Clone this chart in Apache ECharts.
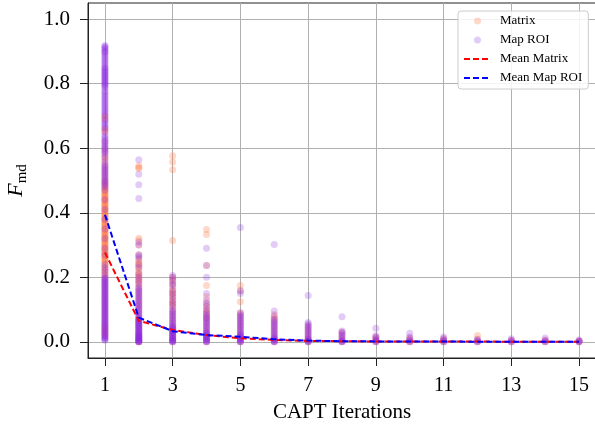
<!DOCTYPE html>
<html>
<head>
<meta charset="utf-8">
<script src="https://cdn.jsdelivr.net/npm/echarts@6/dist/echarts.min.js"></script>
<style>html,body{margin:0;padding:0;background:#fff}#c{width:595px;height:430px}</style>
</head>
<body>
<div id="c"></div>
<script>
// Iterations (x positions)
const iterations = [1,2,3,4,5,6,7,8,9,10,11,12,13,14,15];
const xTicks = [1,3,5,7,9,11,13,15];
const yTicks = [0,0.2,0.4,0.6,0.8,1.0];

// F_md values per iteration, "Matrix"
const matrixVals = [
  [0.70,0.695,0.69,0.66,0.655,0.65,0.62,0.60,0.59,0.575,0.57,0.56,0.55,0.54,0.53,0.52,0.51,0.50,0.49,0.48,0.475,0.47,0.465,0.46,0.455,0.45,0.445,0.44,0.435,0.43,0.425,0.42,0.415,0.41,0.405,0.40,0.395,0.39,0.385,0.38,0.375,0.37,0.365,0.36,0.355,0.35,0.345,0.34,0.335,0.33,0.325,0.32,0.315,0.31,0.305,0.30,0.295,0.29,0.285,0.28,0.275,0.27,0.265,0.26,0.255,0.25,0.24,0.23,0.22,0.21,0.20,0.19,0.18,0.17,0.16,0.15,0.14,0.13,0.12,0.11,0.10,0.09,0.08,0.07,0.06,0.05,0.045,0.04,0.035,0.03,0.025,0.02,
   0.498,0.488,0.478,0.468,0.458,0.448,0.438,0.428,0.418,0.408,0.398,0.388,0.378,0.368,0.358,0.348,0.338,0.328,0.318,0.308,0.298,0.288,0.278,0.268,0.258,0.248,0.238,0.228,0.218,0.208],
  [0.546,0.54,0.537,0.321,0.315,0.30,0.27,0.255,0.25,0.245,0.24,0.235,0.23,0.22,0.215,0.21,0.205,0.20,0.195,0.19,0.185,0.18,0.17,0.16,0.15,0.14,0.13,0.12,0.11,0.10,0.09,0.08,0.07,0.06,0.05,0.04,0.03,0.02,0.01,0.0,0.0],
  [0.577,0.557,0.533,0.314,0.20,0.195,0.19,0.18,0.17,0.16,0.155,0.15,0.145,0.14,0.13,0.125,0.12,0.115,0.11,0.10,0.09,0.08,0.07,0.06,0.05,0.04,0.03,0.02,0.01,0.0],
  [0.348,0.333,0.237,0.175,0.14,0.12,0.11,0.10,0.095,0.09,0.08,0.075,0.07,0.06,0.05,0.04,0.03,0.02,0.01,0.0],
  [0.175,0.158,0.124,0.09,0.08,0.07,0.06,0.05,0.04,0.03,0.02,0.01,0.0],
  [0.085,0.075,0.07,0.06,0.05,0.04,0.03,0.02,0.01,0.0],
  [0.05,0.04,0.03,0.02,0.01,0.005,0.0],
  [0.03,0.02,0.01,0.0],
  [0.015,0.01,0.005,0.0],
  [0.012,0.006,0.0],
  [0.01,0.005,0.0],
  [0.02,0.008,0.0],
  [0.006,0.0],
  [0.006,0.0],
  [0.004,0.0]
];

// F_md values per iteration, "Map ROI"
const mapRoiVals = [
  [0.918,0.912,0.905,0.90,0.895,0.89,0.88,0.87,0.86,0.85,0.845,0.84,0.835,0.83,0.825,0.82,0.815,0.81,0.805,0.80,0.795,0.79,0.78,0.77,0.765,0.76,0.75,0.74,0.735,0.73,0.72,0.71,0.70,0.69,0.685,0.68,0.675,0.67,0.665,0.66,0.65,0.64,0.63,0.62,0.61,0.605,0.60,0.59,0.58,0.57,0.56,0.55,0.545,0.54,0.53,0.52,0.51,0.50,0.49,0.485,0.48,0.47,0.44,0.41,0.38,0.35,0.32,0.29,0.27,0.24,0.23,0.22,0.21,0.20,0.195,0.19,0.185,0.18,0.175,0.17,0.165,0.16,0.155,0.15,0.145,0.14,0.135,0.13,0.125,0.12,0.115,0.11,0.105,0.10,0.095,0.09,0.085,0.08,0.075,0.07,0.065,0.06,0.055,0.05,0.045,0.04,0.035,0.03,0.025,0.02,0.015,0.01,0.005,
   0.915,0.908,0.898,0.885,0.875,0.865,0.855,0.848,0.838,0.828,0.818,0.808,0.798,0.788,0.775,0.755,0.745,0.725,0.715,0.705,0.635,0.625,0.615,0.595,0.585,0.535,0.525,0.515,0.505,0.495,
   0.198,0.188,0.178,0.168,0.158,0.148,0.138,0.128,0.118,0.108,0.098,0.088,0.078,0.068,0.058,0.048,0.038,0.028,0.018,0.012,0.008],
  [0.564,0.519,0.487,0.444,0.309,0.30,0.27,0.265,0.26,0.24,0.23,0.21,0.20,0.19,0.18,0.17,0.165,0.16,0.155,0.15,0.145,0.14,0.135,0.13,0.125,0.12,0.115,0.11,0.105,0.10,0.095,0.09,0.085,0.08,0.075,0.07,0.065,0.06,0.055,0.05,0.045,0.04,0.035,0.03,0.025,0.02,0.015,0.01,0.005,0.0,0.0,0.0,0.002,0.004,0.006,0.008,0.012,0.014,0.016,0.018,0.022,0.024,0.028,0.032,0.038,0.042,0.048,0.052,0.058,0.062,0.068,0.072],
  [0.206,0.2,0.19,0.18,0.175,0.16,0.15,0.14,0.13,0.12,0.11,0.10,0.095,0.09,0.085,0.08,0.075,0.07,0.065,0.06,0.055,0.05,0.045,0.04,0.035,0.03,0.025,0.02,0.015,0.01,0.005,0.0,0.0,0.002,0.004,0.008,0.012,0.018,0.022,0.028,0.032,0.038,0.042,0.048],
  [0.29,0.237,0.2,0.15,0.13,0.12,0.11,0.10,0.09,0.085,0.08,0.075,0.07,0.065,0.06,0.055,0.05,0.045,0.04,0.035,0.03,0.025,0.02,0.015,0.01,0.005,0.0,0.0,0.002,0.008,0.012,0.018,0.022,0.028],
  [0.354,0.158,0.15,0.09,0.085,0.08,0.075,0.07,0.065,0.06,0.055,0.05,0.045,0.04,0.035,0.03,0.025,0.02,0.015,0.01,0.005,0.0,0.0,0.002,0.008,0.012,0.018,0.022],
  [0.302,0.096,0.08,0.07,0.065,0.06,0.055,0.05,0.045,0.04,0.035,0.03,0.025,0.02,0.015,0.01,0.005,0.0,0.0,0.002,0.008,0.012],
  [0.144,0.06,0.055,0.05,0.045,0.04,0.035,0.03,0.025,0.02,0.015,0.01,0.005,0.0,0.0,0.002,0.008],
  [0.078,0.034,0.03,0.025,0.02,0.015,0.01,0.005,0.0,0.0,0.002],
  [0.042,0.019,0.015,0.01,0.005,0.0,0.0],
  [0.027,0.015,0.01,0.005,0.0,0.0],
  [0.015,0.01,0.005,0.0,0.0],
  [0.008,0.004,0.0,0.0],
  [0.01,0.005,0.0,0.0],
  [0.012,0.005,0.0,0.0],
  [0.006,0.002,0.0,0.0]
];

// Mean curves
const meanMatrix = [0.277,0.065,0.037,0.021,0.011,0.006,0.003,0.002,0.001,0.001,0.001,0.001,0.0005,0.0005,0.0005];
const meanMapRoi = [0.394,0.075,0.033,0.021,0.016,0.008,0.004,0.002,0.0015,0.001,0.001,0.0005,0.0005,0.0005,0.0005];

function toPoints(perIter) {
  const pts = [];
  perIter.forEach((vals, i) => vals.forEach(v => pts.push([iterations[i], v])));
  return pts;
}
const FONT = 'Liberation Serif';
const chart = echarts.init(document.getElementById('c'), null, {renderer: 'canvas'});
chart.setOption({
  animation: false,
  backgroundColor: '#fff',
  grid: {left: 88, right: -1, top: 3, bottom: 72, show: true, borderColor: '#222', borderWidth: 1,
         backgroundColor: 'transparent', outerBoundsMode: 'none', containLabel: false},
  legend: {
    orient: 'vertical', left: 458, top: 11,
    padding: [3, 6, 4, 5], itemWidth: 27, itemHeight: 7, itemGap: 5,
    backgroundColor: 'rgba(255,255,255,0.85)', borderColor: '#ccc', borderWidth: 1, borderRadius: 3,
    textStyle: {fontFamily: FONT, fontSize: 13, color: '#000', lineHeight: 14, padding: [0,0,0,4]},
    data: [
      {name: 'Matrix'},
      {name: 'Map ROI'},
      {name: 'Mean Matrix', itemStyle: {opacity: 0}},
      {name: 'Mean Map ROI', itemStyle: {opacity: 0}}
    ]
  },
  xAxis: {
    type: 'value', min: 0.5, max: 15.5,
    name: 'CAPT Iterations', nameLocation: 'middle', nameGap: 44,
    nameTextStyle: {fontFamily: FONT, fontSize: 21, color: '#000'},
    axisLine: {show: true, onZero: false, lineStyle: {color: '#222', width: 1}},
    axisTick: {show: true, inside: false, length: 8, customValues: xTicks, lineStyle: {color: '#222'}},
    axisLabel: {customValues: xTicks, margin: 18, fontFamily: FONT, fontSize: 20, color: '#000'},
    splitLine: {show: true, lineStyle: {color: '#b0b0b0', width: 1}}
  },
  yAxis: {
    type: 'value', min: -0.05, max: 1.05,
    name: '{f|F}{s|md}', nameLocation: 'middle', nameGap: 58,
    nameTextStyle: {
      color: '#000',
      rich: {
        f: {fontFamily: FONT, fontStyle: 'italic', fontSize: 22, lineHeight: 28, verticalAlign: 'middle'},
        s: {fontFamily: FONT, fontSize: 15, lineHeight: 28, verticalAlign: 'bottom'}
      }
    },
    axisLine: {show: true, onZero: false, lineStyle: {color: '#222', width: 1}},
    axisTick: {show: true, inside: false, length: 8, customValues: yTicks, lineStyle: {color: '#222'}},
    axisLabel: {customValues: yTicks, margin: 18, fontFamily: FONT, fontSize: 21, color: '#000',
      formatter: v => v.toFixed(1)},
    splitLine: {show: true, lineStyle: {color: '#b0b0b0', width: 1}}
  },
  series: [
    {name: 'Matrix', type: 'scatter', data: toPoints(matrixVals), symbolSize: 7,
     itemStyle: {color: 'rgba(255,127,80,0.38)'}, z: 2},
    {name: 'Map ROI', type: 'scatter', data: toPoints(mapRoiVals), symbolSize: 7,
     itemStyle: {color: 'rgba(138,43,226,0.3)'}, z: 3},
    {name: 'Mean Matrix', type: 'line', data: iterations.map((x, i) => [x, meanMatrix[i]]),
     showSymbol: false, symbol: 'none', itemStyle: {color: '#ff0000'},
     lineStyle: {color: '#ff0000', width: 2, type: [6, 3]}, z: 4},
    {name: 'Mean Map ROI', type: 'line', data: iterations.map((x, i) => [x, meanMapRoi[i]]),
     showSymbol: false, symbol: 'none', itemStyle: {color: '#0000ff'},
     lineStyle: {color: '#0000ff', width: 2, type: [6, 3]}, z: 5}
  ]
});
</script>
</body>
</html>
